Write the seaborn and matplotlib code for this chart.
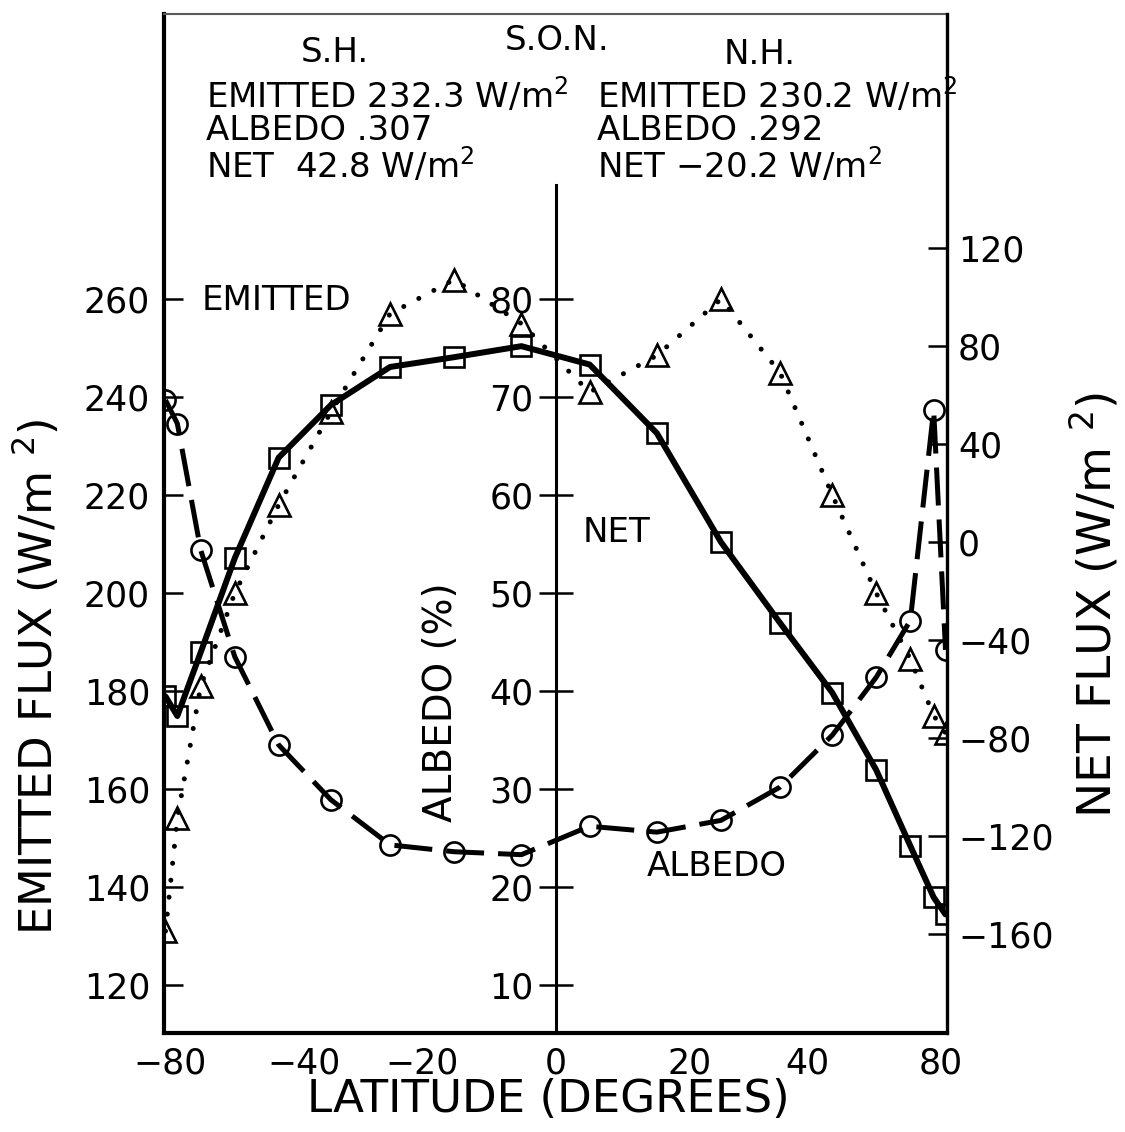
import numpy as np
import pandas as pd
import matplotlib
matplotlib.use("Agg")
import matplotlib.pyplot as plt
import seaborn as sns

# band centres (deg latitude)
lat = [-85, -75, -65, -55, -45, -35, -25, -15, -5,
       5, 15, 25, 35, 45, 55, 65, 75, 85]
# emitted longwave flux (W/m2)
emitted = [131, 154, 181, 200, 218, 237, 257, 264, 255,
           241, 248.5, 260, 245, 220, 200, 186.5, 175, 171.5]
# albedo (%)
albedo = [69.7, 67.3, 54.4, 43.5, 34.5, 28.9, 24.3, 23.6, 23.3,
          26.2, 25.6, 26.8, 30.2, 35.5, 41.4, 47.2, 68.7, 44.2]
# net flux (W/m2)
net = [-63, -71, -45, -6.5, 34.5, 56, 71.5, 75.5, 80,
       72.5, 44.5, 0, -33, -61.5, -93, -124, -145, -152]

xtick_vals = [-80, -40, -20, 0, 20, 40, 80]
xtick_minor = list(range(-80, 81, 10))
emit_ticks = list(range(120, 261, 20))
alb_ticks = list(range(10, 81, 10))
net_ticks = list(range(-160, 121, 40))

df = pd.DataFrame({"lat": lat, "emitted": emitted, "albedo": albedo, "net": net})

sns.set_style("white")
plt.rcParams["font.family"] = ["DejaVu Sans"]
plt.rcParams["mathtext.default"] = "regular"
for k in ("text.color", "axes.labelcolor", "xtick.color", "ytick.color",
          "axes.edgecolor"):
    plt.rcParams[k] = "black"

W, H = 1125, 1132
fig = plt.figure(figsize=(W / 100, H / 100), dpi=100)


def fx(x):
    return x / W


def fy(y):
    return 1 - y / H


ax = fig.add_axes([fx(164), fy(1033), (947 - 164) / W, (1033 - 14) / H])

fwd = lambda v: np.sin(np.radians(v))
inv = lambda v: np.degrees(np.arcsin(np.clip(v, -1, 1)))
ax.set_xscale("function", functions=(fwd, inv))
ax.set_xlim(-90, 90)

e_lo, e_hi = 110.2, 318.2
net0 = 210.4
ax.set_ylim(e_lo, e_hi)

ax_net = ax.twinx()
ax_net.set_ylim(2 * (e_lo - net0), 2 * (e_hi - net0))
ax_alb = ax.twinx()
ax_alb.set_ylim((e_lo - 100) / 2, (e_hi - 100) / 2)

tick_fs = 25
lw_tick = 1.8


def lab(v):
    return str(v).replace("-", "\u2212")


# emitted: dotted + triangles
sns.lineplot(data=df, x="lat", y="emitted", ax=ax, color="black", lw=3.6,
             linestyle=(0, (0.01, 3.4)), dash_capstyle="round",
             marker="^", ms=15.5, mfc="none", mec="black", mew=1.9)
# albedo: dashed + circles
sns.lineplot(data=df, x="lat", y="albedo", ax=ax_alb, color="black", lw=3.6,
             linestyle=(0, (7.6, 2.8)), dash_capstyle="butt",
             marker="o", ms=14.5, mfc="none", mec="black", mew=1.9)
# net: solid + squares
sns.lineplot(data=df, x="lat", y="net", ax=ax_net, color="black", lw=4.3,
             marker="s", ms=15, mfc="none", mec="black", mew=1.9)

for a in (ax, ax_net, ax_alb):
    a.set_xlabel("")
    a.set_ylabel("")
    a.patch.set_visible(False)

# main axes frame
for s in ("left", "bottom"):
    ax.spines[s].set_linewidth(3.0)
ax.spines["top"].set_linewidth(1.5)
ax.spines["top"].set_color("0.35")
ax.spines["right"].set_visible(False)

ax.set_xticks(xtick_vals)
ax.set_xticklabels([lab(v) for v in xtick_vals])
ax.set_xticks(xtick_minor, minor=True)
ax.tick_params(axis="x", which="both", direction="in", length=14, width=lw_tick,
               top=False, labelsize=tick_fs, pad=10)
ax.set_yticks(emit_ticks)
ax.tick_params(axis="y", which="both", direction="in", length=14, width=lw_tick,
               right=False, labelsize=tick_fs, pad=10)
ax.yaxis.set_minor_locator(matplotlib.ticker.NullLocator())

# net axis on the right
for s in ("left", "top", "bottom"):
    ax_net.spines[s].set_visible(False)
ax_net.spines["right"].set_linewidth(2.4)
ax_net.set_yticks(net_ticks)
ax_net.set_yticklabels([lab(v) for v in net_ticks])
ax_net.tick_params(axis="y", direction="in", length=14, width=lw_tick,
                   labelsize=tick_fs, pad=8)

# albedo axis along the equator line
for s in ("right", "top", "bottom"):
    ax_alb.spines[s].set_visible(False)
ax_alb.spines["left"].set_position(("axes", 0.5))
ax_alb.spines["left"].set_linewidth(2.2)
ax_alb.spines["left"].set_bounds((e_lo - 100) / 2, 91.6)
ax_alb.yaxis.set_ticks_position("left")
ax_alb.set_yticks(alb_ticks)
ax_alb.tick_params(axis="y", direction="inout", length=24, width=lw_tick,
                   labelsize=tick_fs, pad=4)

# axis titles
lab_fs = 32.5
fig.text(fx(37), fy(677), "EMITTED FLUX (W/m $^2$)", rotation=90,
         ha="center", va="center", fontsize=lab_fs)
fig.text(fx(1095), fy(605), "NET FLUX (W/m $^2$)", rotation=90,
         ha="center", va="center", fontsize=34)
fig.text(fx(548), fy(1100), "LATITUDE (DEGREES)",
         ha="center", va="center", fontsize=lab_fs)
fig.text(fx(441), fy(702), "ALBEDO (%)", rotation=90,
         ha="center", va="center", fontsize=28)

# header
hdr_fs = 24.5
fig.text(fx(335), fy(52), "S.H.", ha="center", va="center", fontsize=hdr_fs)
fig.text(fx(557), fy(40), "S.O.N.", ha="center", va="center", fontsize=hdr_fs)
fig.text(fx(760), fy(55), "N.H.", ha="center", va="center", fontsize=hdr_fs)
sh_lines = ["EMITTED 232.3 W/m$^2$", "ALBEDO .307", "NET  42.8 W/m$^2$"]
nh_lines = ["EMITTED 230.2 W/m$^2$", "ALBEDO .292", "NET \u221220.2 W/m$^2$"]
for i, (a, b) in enumerate(zip(sh_lines, nh_lines)):
    y = 95 + 35 * i
    fig.text(fx(206), fy(y), a, ha="left", va="center", fontsize=hdr_fs)
    fig.text(fx(597), fy(y), b, ha="left", va="center", fontsize=hdr_fs)

# curve labels
fig.text(fx(202), fy(300), "EMITTED", ha="left", va="center", fontsize=hdr_fs)
fig.text(fx(617), fy(532), "NET", ha="center", va="center", fontsize=hdr_fs)
fig.text(fx(717), fy(866), "ALBEDO", ha="center", va="center", fontsize=hdr_fs)

fig.savefig("out.png", dpi=100, facecolor="white")
